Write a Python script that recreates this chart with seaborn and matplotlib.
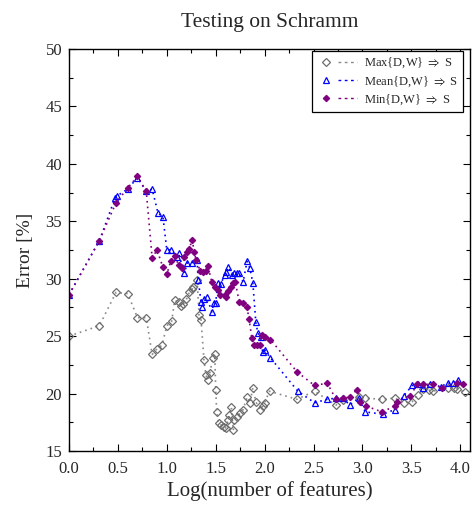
import matplotlib
matplotlib.use("Agg")
import matplotlib.pyplot as plt
from matplotlib.lines import Line2D
from matplotlib.legend_handler import HandlerTuple
import seaborn as sns
import pandas as pd

# Error curves vs log10(number of features)
max_x = [0.00, 0.31, 0.48, 0.60, 0.70, 0.79, 0.85, 0.90, 0.95, 1.00, 1.05, 1.08,
         1.12, 1.15, 1.17, 1.20, 1.23, 1.26, 1.27, 1.31, 1.33, 1.35, 1.38, 1.40,
         1.42, 1.44, 1.47, 1.49, 1.50, 1.51, 1.53, 1.55, 1.58, 1.60, 1.63, 1.64,
         1.66, 1.68, 1.69, 1.72, 1.75, 1.78, 1.82, 1.85, 1.88, 1.91, 1.95, 1.98,
         2.00, 2.05, 2.33, 2.51, 2.73, 2.80, 2.96, 3.03, 3.20, 3.33, 3.43, 3.51,
         3.57, 3.62, 3.68, 3.72, 3.87, 3.94, 3.97, 4.05]
max_err = [25.0, 25.9, 28.8, 28.7, 26.6, 26.6, 23.4, 23.9, 24.2, 25.9, 26.3, 28.1,
           28.0, 27.6, 27.8, 28.2, 28.8, 29.1, 29.3, 29.9, 26.8, 26.4, 22.9, 21.6,
           21.2, 21.8, 23.1, 23.4, 20.3, 18.4, 17.4, 17.3, 17.1, 17.0, 17.7, 18.1,
           18.8, 16.8, 17.7, 18.0, 18.3, 18.6, 19.7, 19.2, 20.5, 19.3, 18.6, 18.9,
           19.2, 20.2, 19.5, 20.2, 19.0, 19.4, 19.7, 19.6, 19.5, 19.6, 19.2, 19.3,
           19.9, 20.4, 20.3, 20.2, 20.5, 20.5, 20.4, 20.1]

mean_x = [0.00, 0.31, 0.47, 0.49, 0.60, 0.70, 0.79, 0.85, 0.91, 0.96, 1.00, 1.04,
          1.10, 1.12, 1.18, 1.21, 1.26, 1.31, 1.32, 1.35, 1.36, 1.38, 1.41, 1.46,
          1.48, 1.50, 1.52, 1.55, 1.59, 1.61, 1.63, 1.67, 1.69, 1.72, 1.74, 1.78,
          1.82, 1.85, 1.88, 1.91, 1.93, 1.96, 1.98, 2.00, 2.06, 2.34, 2.51, 2.64,
          2.73, 2.80, 2.87, 2.96, 3.03, 3.21, 3.33, 3.42, 3.51, 3.57, 3.62, 3.69,
          3.80, 3.87, 3.93, 3.98]
mean_err = [28.6, 33.3, 37.0, 37.2, 37.8, 38.8, 37.6, 37.8, 35.7, 35.4, 32.5, 32.5,
            31.9, 32.2, 30.5, 31.4, 31.4, 31.6, 29.9, 28.0, 27.5, 28.2, 28.4, 27.1,
            27.9, 27.9, 29.6, 29.5, 30.3, 30.6, 31.0, 30.3, 30.5, 30.5, 30.5, 29.7,
            31.5, 30.9, 29.6, 26.2, 25.3, 24.9, 23.6, 23.8, 23.1, 20.2, 19.2, 19.5,
            19.6, 19.6, 19.0, 19.6, 18.4, 18.2, 18.6, 19.8, 20.7, 20.8, 20.5, 20.8,
            20.6, 20.9, 20.9, 21.2]

min_x = [0.00, 0.31, 0.48, 0.60, 0.70, 0.79, 0.85, 0.90, 0.96, 1.00, 1.04, 1.08,
         1.12, 1.16, 1.18, 1.21, 1.23, 1.26, 1.28, 1.30, 1.34, 1.37, 1.40, 1.42,
         1.46, 1.49, 1.52, 1.54, 1.59, 1.61, 1.63, 1.66, 1.68, 1.70, 1.74, 1.78,
         1.82, 1.84, 1.87, 1.89, 1.92, 1.95, 1.97, 2.00, 2.06, 2.33, 2.51, 2.64,
         2.73, 2.80, 2.87, 2.94, 2.98, 3.04, 3.20, 3.33, 3.35, 3.49, 3.56, 3.62,
         3.72, 3.81, 3.97, 4.03]
min_err = [28.6, 33.3, 36.6, 37.9, 38.9, 37.6, 31.8, 32.5, 31.0, 30.4, 31.5, 32.0,
           31.2, 30.9, 31.9, 32.3, 32.6, 33.4, 32.3, 31.6, 30.7, 30.6, 30.7, 31.1,
           29.7, 29.3, 29.0, 28.6, 28.6, 28.4, 28.9, 29.3, 29.6, 29.7, 28.0, 27.9,
           27.5, 26.5, 24.8, 24.2, 24.2, 24.2, 25.1, 24.9, 24.7, 21.9, 20.7, 20.9,
           19.5, 19.6, 19.7, 20.3, 19.3, 18.9, 18.4, 18.9, 19.3, 19.8, 20.8, 20.8,
           20.8, 20.5, 20.9, 20.8]

labels = [r"Max{D,W} $\Rightarrow$ S", r"Mean{D,W} $\Rightarrow$ S", r"Min{D,W} $\Rightarrow$ S"]

sns.set_style("ticks")
plt.rcParams["font.family"] = ["Liberation Serif", "DejaVu Serif"]
plt.rcParams["mathtext.fontset"] = "stix"
plt.rcParams["xtick.direction"] = "in"
plt.rcParams["ytick.direction"] = "in"

fig = plt.figure(figsize=(4.74, 5.07), dpi=100)
ax = fig.add_axes([0.1456, 0.1105, 0.846, 0.793])

series = [
    (max_x, max_err, "D", "#6e6e6e", "none", "#8a8a8a", 3.6),
    (mean_x, mean_err, "^", "#0000ff", "none", "#0000ff", 4.2),
    (min_x, min_err, "D", "#800080", "#800080", "#800080", 3.2),
]

handles = []
for (xs, ys, mk, ec, fc, lc, ms), lab in zip(series, labels):
    df = pd.DataFrame({"x": xs, "y": ys})
    sns.lineplot(data=df, x="x", y="y", ax=ax, estimator=None, sort=False,
                 color=lc, linestyle=(0, (1, 2.4)), linewidth=1.2,
                 marker=mk, markersize=ms, markeredgecolor=ec,
                 markerfacecolor=fc, markeredgewidth=0.9)
    m = Line2D([], [], linestyle="none", marker=mk, markersize=ms,
               markeredgecolor=ec, markerfacecolor=fc, markeredgewidth=0.9)
    ln = Line2D([], [], color=lc, linestyle=(0, (2, 2.5)), linewidth=1.0)
    handles.append((m, ln))

ax.set_xlim(0, 4.1)
ax.set_ylim(15, 50)
ax.set_xticks([0, 0.5, 1.0, 1.5, 2.0, 2.5, 3.0, 3.5, 4.0])
ax.set_xticks([0.25, 0.75, 1.25, 1.75, 2.25, 2.75, 3.25, 3.75], minor=True)
ax.set_yticks([15, 20, 25, 30, 35, 40, 45, 50])
ax.set_yticks([17.5, 22.5, 27.5, 32.5, 37.5, 42.5, 47.5], minor=True)
ax.xaxis.set_major_formatter(matplotlib.ticker.FormatStrFormatter("%.1f"))
ax.tick_params(which="both", top=True, right=True, direction="in", labelsize=12,
               color="black", width=0.8)
ax.tick_params(which="major", length=5)
ax.tick_params(which="minor", length=3)
ax.tick_params(axis="x", pad=7)
ax.tick_params(axis="y", pad=5)
for s in ax.spines.values():
    s.set_visible(True)
    s.set_color("black")
    s.set_linewidth(1.0)

ax.set_xlabel("Log(number of features)", fontsize=15, labelpad=3)
ax.set_ylabel("Error [%]", fontsize=14, labelpad=8)
ax.set_title("Testing on Schramm", fontsize=15.5, pad=16)

leg = ax.legend(handles, labels, loc="upper right", fontsize=9,
                handler_map={tuple: HandlerTuple(ndivide=None, pad=0.3)},
                handlelength=3.2, handletextpad=0.6, borderpad=0.4,
                labelspacing=0.3, fancybox=False, framealpha=1,
                edgecolor="black", borderaxespad=0,
                bbox_to_anchor=(0.983, 0.995))
leg.get_frame().set_linewidth(0.9)

fig.savefig("out.png", dpi=100)
